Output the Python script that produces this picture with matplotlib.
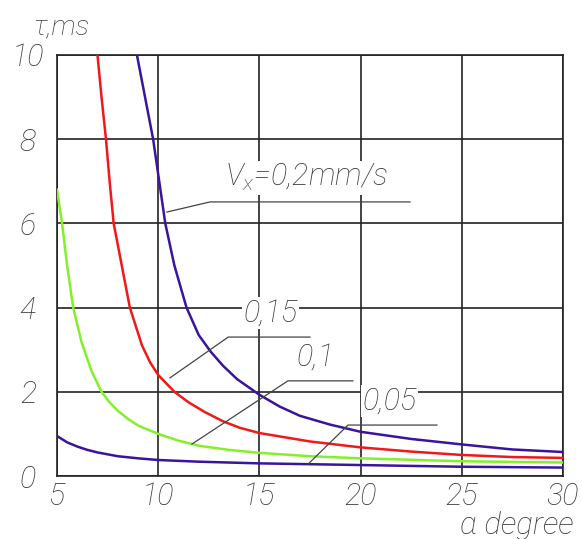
import matplotlib
matplotlib.use("Agg")
import matplotlib.pyplot as plt

# curves: alpha (degree) vs tau (ms)
x_02 = [8.95, 9.35, 9.75, 10.05, 10.35, 10.8, 11.4, 12.0, 12.6, 13.2, 13.9, 15.0, 16.0, 17.0, 18.5, 20.0, 22.5, 25.0, 27.5, 30.0]
y_02 = [10.0, 9.0, 8.0, 7.0, 6.0, 5.0, 4.0, 3.35, 2.95, 2.62, 2.3, 1.93, 1.65, 1.43, 1.22, 1.05, 0.88, 0.75, 0.63, 0.57]

x_015 = [7.0, 7.2, 7.42, 7.6, 7.8, 8.2, 8.6, 9.2, 9.6, 10.0, 10.8, 11.5, 12.3, 13.2, 14.0, 15.0, 16.5, 17.5, 20.0, 22.5, 25.0, 27.5, 30.0]
y_015 = [10.0, 9.0, 8.0, 7.0, 6.0, 5.0, 4.0, 3.1, 2.7, 2.4, 2.0, 1.75, 1.52, 1.3, 1.15, 1.02, 0.9, 0.82, 0.68, 0.58, 0.5, 0.45, 0.43]

x_01 = [5.0, 5.25, 5.5, 5.8, 6.2, 6.7, 7.2, 7.6, 8.0, 8.5, 9.0, 9.5, 10.0, 11.0, 12.0, 13.5, 15.0, 17.5, 20.0, 25.0, 30.0]
y_01 = [6.8, 6.0, 5.0, 4.0, 3.2, 2.5, 2.0, 1.75, 1.55, 1.36, 1.2, 1.1, 1.0, 0.84, 0.72, 0.62, 0.55, 0.47, 0.42, 0.35, 0.32]

x_005 = [5.0, 5.5, 6.0, 6.5, 7.0, 8.0, 9.0, 10.0, 12.0, 15.0, 20.0, 25.0, 30.0]
y_005 = [0.95, 0.8, 0.7, 0.62, 0.56, 0.47, 0.42, 0.38, 0.34, 0.3, 0.26, 0.22, 0.2]

x_ticks = [5, 10, 15, 20, 25, 30]
y_ticks = [0, 2, 4, 6, 8, 10]

purple = '#3a139e'
red = '#f01818'
green = '#84f02a'
txt = '#3a3a3a'
font = ['Roboto', 'DejaVu Sans']
fs = 22
tstyle = dict(family=font, style='italic', weight='light', color=txt)

fig = plt.figure(figsize=(5.82, 5.39), dpi=100)
ax = fig.add_axes([57 / 582, 1 - 476 / 539, (563 - 57) / 582, (476 - 55) / 539])

ax.plot(x_02, y_02, color=purple, lw=1.8, zorder=3)
ax.plot(x_015, y_015, color=red, lw=1.8, zorder=3)
ax.plot(x_01, y_01, color=green, lw=1.8, zorder=3)
ax.plot(x_005, y_005, color=purple, lw=1.8, zorder=3)

ax.set_xlim(5, 30)
ax.set_ylim(0, 10)
ax.set_xticks(x_ticks)
ax.set_yticks(y_ticks)
ax.set_xticklabels([str(v) for v in x_ticks], fontsize=fs, **tstyle)
ax.set_yticklabels([str(v) for v in y_ticks], fontsize=fs, ha='center', **tstyle)
ax.tick_params(length=0)
ax.tick_params(axis='y', pad=21)
ax.tick_params(axis='x', pad=4)
ax.grid(True, color='#222222', lw=1.2, zorder=1)
for s in ax.spines.values():
    s.set_color('#222222')
    s.set_linewidth(1.2)

# leaders and labels
lead = dict(color='#444444', lw=0.9, zorder=4)
box = dict(facecolor='white', edgecolor='none', pad=1)
ax.plot([10.43, 12.56, 22.44], [6.27, 6.51, 6.51], **lead)
ax.text(13.3, 7.08, r'V$_{\mathregular{x}}$=0,2mm/s', fontsize=fs, va='center', ha='left',
        bbox=box, zorder=5, **tstyle)
ax.plot([10.58, 13.46, 17.5], [2.33, 3.30, 3.30], **lead)
ax.text(14.2, 3.87, '0,15', fontsize=fs, va='center', ha='left', bbox=box, zorder=5, **tstyle)
ax.plot([11.67, 16.41, 19.62], [0.76, 2.26, 2.26], **lead)
ax.text(16.85, 2.83, '0,1', fontsize=fs, va='center', ha='left', bbox=box, zorder=5, **tstyle)
ax.plot([17.4, 19.38, 23.77], [0.28, 1.21, 1.21], **lead)
ax.text(20.1, 1.78, '0,05', fontsize=fs, va='center', ha='left', bbox=box, zorder=5, **tstyle)

fig.text(33 / 582, 1 - 27 / 539, 'τ,ms', fontsize=20, va='center', ha='left', **tstyle)
fig.text(460 / 582, 1 - 526 / 539, 'α degree', fontsize=22.5, va='center', ha='left', **tstyle)

fig.savefig('out.png', dpi=100)
